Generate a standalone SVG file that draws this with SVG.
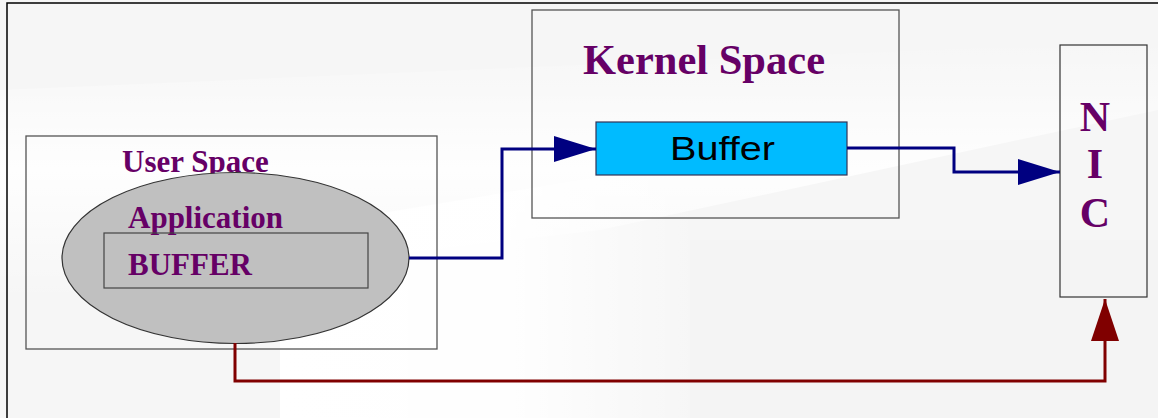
<svg xmlns="http://www.w3.org/2000/svg" width="1158" height="418" viewBox="0 0 1158 418">
<style>
.box{fill:none;stroke:#555;stroke-width:1.3}
.lbl{font-family:"Liberation Serif","Times New Roman",serif;font-weight:bold;fill:#660066}
.blue{fill:none;stroke:#000080;stroke-width:3}
.red{fill:none;stroke:#800000;stroke-width:3}
</style>
<defs>
<marker id="ab" viewBox="0 0 42 26" refX="42" refY="13" markerWidth="42" markerHeight="26" markerUnits="userSpaceOnUse" orient="auto"><path d="M0,0 L42,13 L0,26 Z" fill="#000080"/></marker>
<marker id="ar" viewBox="0 0 42 28" refX="42" refY="14" markerWidth="42" markerHeight="28" markerUnits="userSpaceOnUse" orient="auto"><path d="M0,0 L42,14 L0,28 Z" fill="#800000"/></marker>
<linearGradient id="g1" x1="0" y1="0" x2="1" y2="0"><stop offset="0" stop-color="#fff" stop-opacity="1"/><stop offset="0.55" stop-color="#fff" stop-opacity="0.9"/><stop offset="1" stop-color="#fff" stop-opacity="0"/></linearGradient>
<linearGradient id="g2" x1="0" y1="0" x2="0" y2="1"><stop offset="0" stop-color="#fff" stop-opacity="0"/><stop offset="0.5" stop-color="#fff" stop-opacity="0.9"/><stop offset="1" stop-color="#fff" stop-opacity="0"/></linearGradient>
</defs>
<rect width="1158" height="418" fill="#f6f6f6"/>
<polygon points="0,90 1158,40 1158,110 600,230 0,300" fill="url(#g2)"/>
<polygon points="280,230 700,160 700,418 280,418" fill="url(#g1)"/>
<rect x="690" y="240" width="468" height="178" fill="#f4f4f4"/>
<path d="M7,418 L7,3 L1158,3" fill="none" stroke="#000" stroke-width="1.5"/>
<g id="user-space">
<rect class="box" x="26" y="136" width="411" height="213"/>
<text class="lbl" x="122" y="172" font-size="31">User Space</text>
</g>
<g id="application">
<ellipse cx="235.5" cy="258" rx="173.5" ry="85.5" fill="#c0c0c0" stroke="#333" stroke-width="1.2"/>
<text class="lbl" x="128" y="228" font-size="31">Application</text>
</g>
<g id="app-buffer">
<rect x="104" y="233" width="264" height="55" fill="none" stroke="#444" stroke-width="1.2"/>
<text class="lbl" x="128" y="275" font-size="31">BUFFER</text>
</g>
<g id="kernel-space">
<rect class="box" x="532" y="10" width="367" height="208"/>
<text class="lbl" x="583" y="74" font-size="42" textLength="242" lengthAdjust="spacingAndGlyphs">Kernel Space</text>
</g>
<g id="kernel-buffer">
<rect x="596" y="122" width="251" height="53" fill="#00bbff" stroke="#335" stroke-width="1.2"/>
<text transform="translate(670,160) scale(1.2,1)" x="0" y="0" font-size="33" font-family="Liberation Sans, Arial, sans-serif" fill="#000">Buffer</text>
</g>
<g id="nic">
<rect x="1060" y="45" width="87" height="252" fill="none" stroke="#333" stroke-width="1.2"/>
<text class="lbl" x="1095" y="131" font-size="42" text-anchor="middle">N</text>
<text class="lbl" x="1095" y="178" font-size="42" text-anchor="middle">I</text>
<text class="lbl" x="1095" y="227" font-size="42" text-anchor="middle">C</text>
</g>
<g id="connectors">
<path class="blue" d="M409,258 L502,258 L502,149 L596,149" marker-end="url(#ab)"/>
<path class="blue" d="M847,148 L954,148 L954,172 L1060,172" marker-end="url(#ab)"/>
<path class="red" d="M235,343 L235,381 L1105,381 L1105,299" marker-end="url(#ar)"/>
</g>
</svg>
